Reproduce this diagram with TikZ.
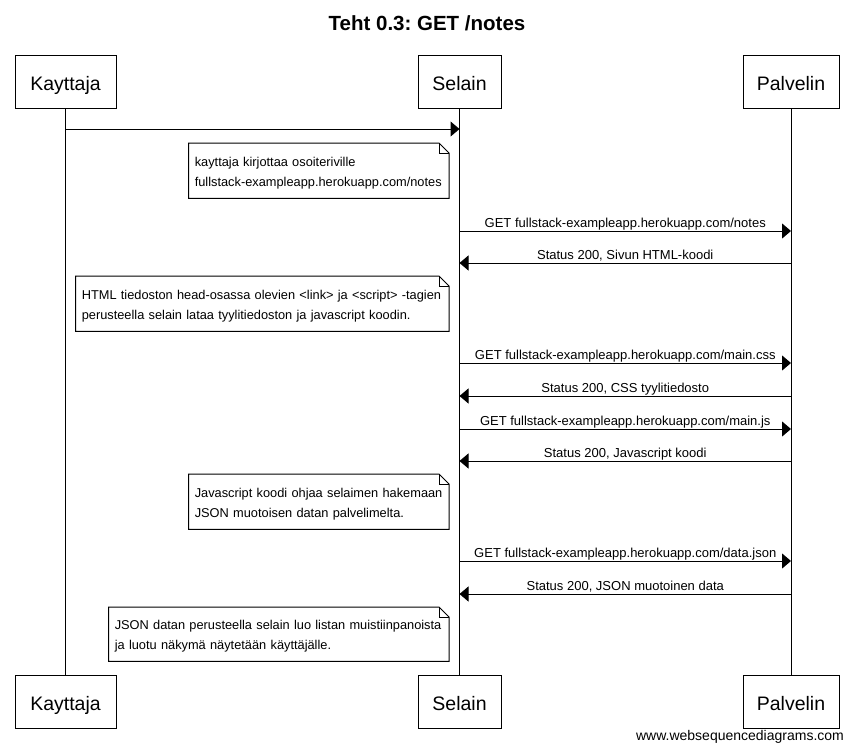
\documentclass[tikz,border=0pt]{standalone}
\usepackage{fontspec}
\setmainfont{Liberation Sans}
\usepackage{tikz}
\usetikzlibrary{arrows.meta, positioning, calc}
\frenchspacing

\newcommand{\dogear}[1]{%
  \draw[notefrm] (#1.north west) -- ([xshift=-10pt]#1.north east) -- ([yshift=-10pt]#1.north east) -- (#1.south east) -- (#1.south west) -- cycle;
  \draw[notefrm] ([xshift=-10pt]#1.north east) |- ([yshift=-10pt]#1.north east);}
\newcommand{\notetop}{\rule{0pt}{13.5pt}}

\begin{document}
\begin{tikzpicture}[x=1pt, y=-1pt,
  actor/.style={rectangle, draw=black, line width=1pt, fill=white, minimum height=53pt, inner sep=0pt, text height=17pt, text depth=0pt, font=\fontsize{19.5}{22}\selectfont},
  lifeline/.style={line width=1pt, draw=black},
  msg/.style={-{Triangle[length=9pt, width=15pt]}, line width=1pt, draw=black},
  lbl/.style={midway, anchor=base, inner sep=0pt, yshift=3.5pt, font=\fontsize{13}{15}\selectfont},
  note/.style={rectangle, draw=none, anchor=north east, align=left, inner xsep=6pt, inner ysep=0pt, minimum height=55pt, font=\fontsize{12.8}{20}\selectfont},
  notefrm/.style={line width=1pt, draw=black}
]
  \useasboundingbox (0,0) rectangle (854,753);

  \node[font=\fontsize{20.5}{24}\selectfont\bfseries] (title) at (427,23) {Teht 0.3: GET /notes};

  % osallistujat
  \node[actor, minimum width=101pt] (kayT) at (65.5,81.5) {Kayttaja};
  \node[actor, minimum width=83pt] (selT) at (459.5,81.5) {Selain};
  \node[actor, minimum width=96pt] (palT) at (791,81.5) {Palvelin};
  \node[actor, minimum width=101pt] (kayB) at (65.5,701.5) {Kayttaja};
  \node[actor, minimum width=83pt] (selB) at (459.5,701.5) {Selain};
  \node[actor, minimum width=96pt] (palB) at (791,701.5) {Palvelin};

  \draw[lifeline] (kayT) -- (kayB);
  \draw[lifeline] (selT) -- (selB);
  \draw[lifeline] (palT) -- (palB);

  % viestit
  \draw[msg] (kayT |- 0,129) -- (selT |- 0,129);

  \node[note, text width=248pt, minimum width=260pt] (n1) at (449,143) {\notetop\mbox{kayttaja kirjottaa osoiteriville}\\\mbox{fullstack-exampleapp.herokuapp.com/notes}};
  \dogear{n1}

  \draw[msg] (selT |- 0,231) -- (palT |- 0,231) node[lbl] {GET fullstack-exampleapp.herokuapp.com/notes};
  \draw[msg] (palT |- 0,263) -- (selT |- 0,263) node[lbl] {Status 200, Sivun HTML-koodi};

  \node[note, text width=361pt, minimum width=373pt] (n2) at (449,276) {\notetop\mbox{HTML tiedoston head-osassa olevien <link> ja <script> -tagien}\\\mbox{perusteella selain lataa tyylitiedoston ja javascript koodin.}};
  \dogear{n2}

  \draw[msg] (selT |- 0,363) -- (palT |- 0,363) node[lbl] {GET fullstack-exampleapp.herokuapp.com/main.css};
  \draw[msg] (palT |- 0,396) -- (selT |- 0,396) node[lbl] {Status 200, CSS tyylitiedosto};
  \draw[msg] (selT |- 0,429) -- (palT |- 0,429) node[lbl] {GET fullstack-exampleapp.herokuapp.com/main.js};
  \draw[msg] (palT |- 0,461) -- (selT |- 0,461) node[lbl] {Status 200, Javascript koodi};

  \node[note, text width=248pt, minimum width=260pt] (n3) at (449,474) {\notetop\mbox{Javascript koodi ohjaa selaimen hakemaan}\\\mbox{JSON muotoisen datan palvelimelta.}};
  \dogear{n3}

  \draw[msg] (selT |- 0,561) -- (palT |- 0,561) node[lbl] {GET fullstack-exampleapp.herokuapp.com/data.json};
  \draw[msg] (palT |- 0,594) -- (selT |- 0,594) node[lbl] {Status 200, JSON muotoinen data};

  \node[note, text width=328pt, minimum width=340pt, minimum height=54pt] (n4) at (449,607) {\notetop\mbox{JSON datan perusteella selain luo listan muistiinpanoista}\\\mbox{ja luotu näkymä näytetään käyttäjälle.}};
  \dogear{n4}

  \node[font=\fontsize{14}{16}\selectfont] (wsd) at (740,737) {www.websequencediagrams.com};
\end{tikzpicture}
\end{document}
